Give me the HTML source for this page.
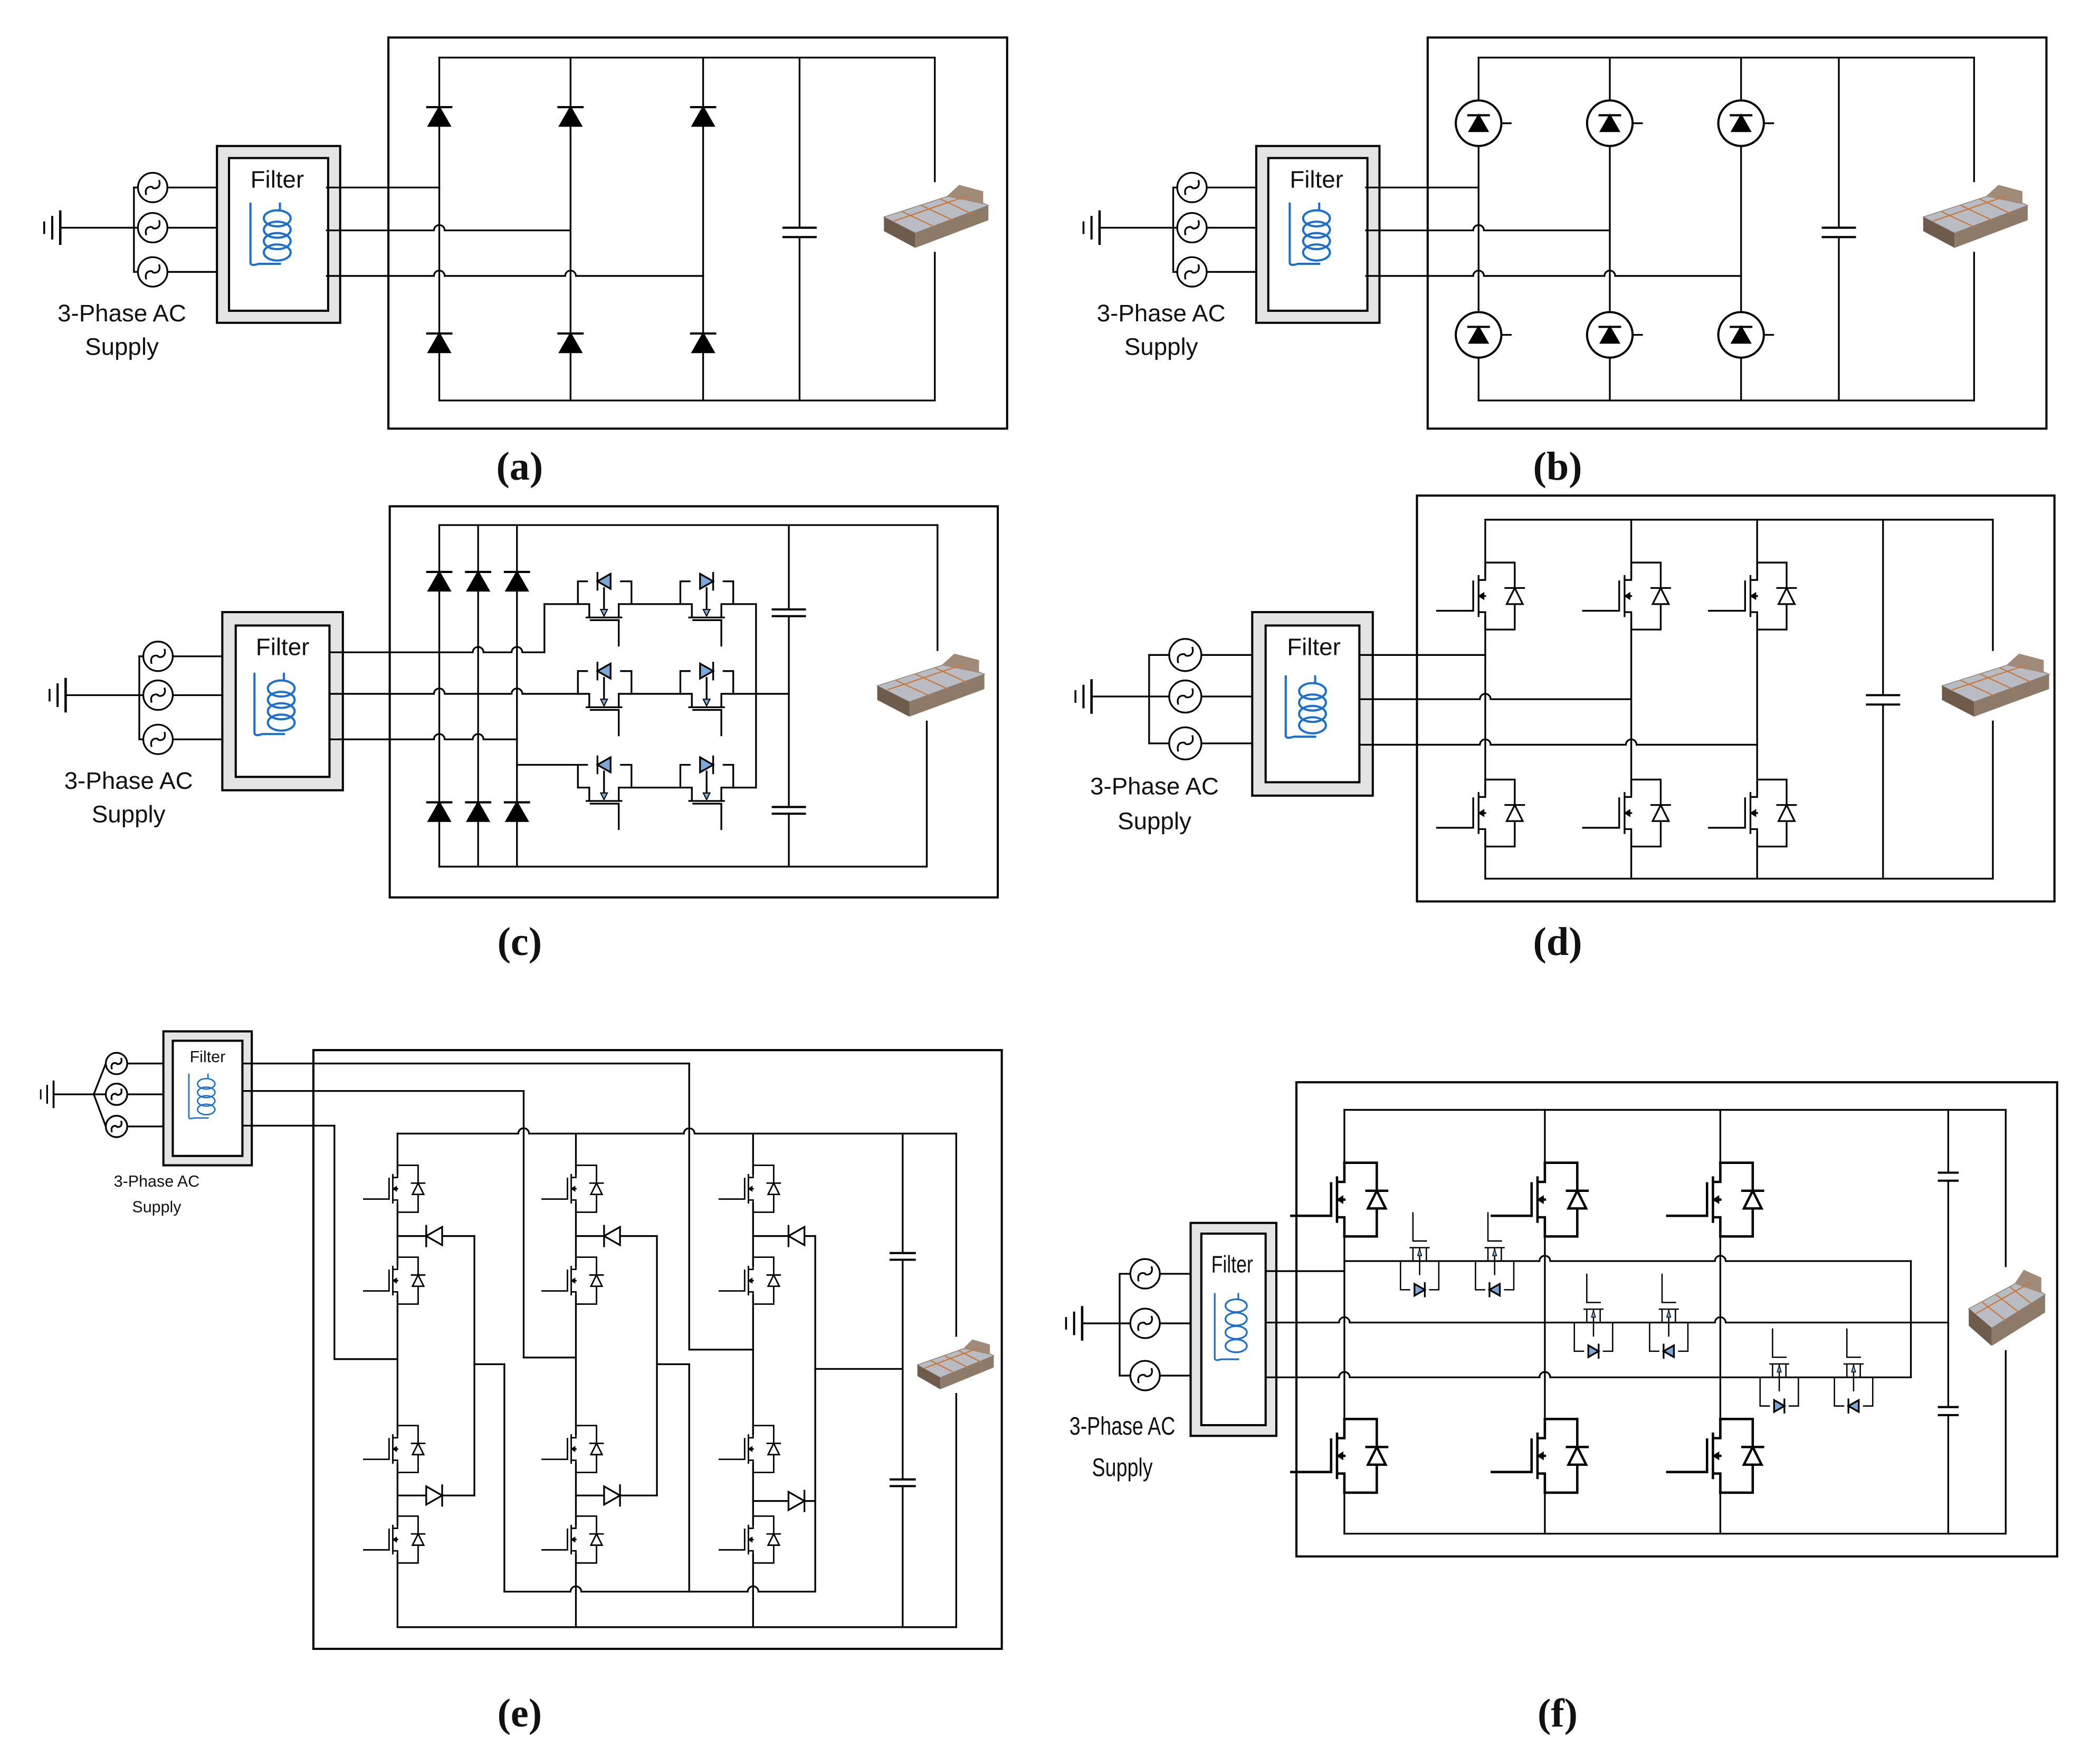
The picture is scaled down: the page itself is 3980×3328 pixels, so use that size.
<!DOCTYPE html>
<html><head><meta charset="utf-8">
<style>
html,body{margin:0;padding:0;background:#fff;}
svg{display:block;}
text{font-family:"Liberation Sans",sans-serif;fill:#111;}
.lbl{font-family:"Liberation Serif",serif;font-size:30px;font-weight:bold;}
</style></head>
<body>
<svg id="s" xmlns="http://www.w3.org/2000/svg" width="3980" height="3328" viewBox="0 0 1568 1311" preserveAspectRatio="none">
<rect x="0" y="0" width="1570" height="1320" fill="#fff"/>
<g id="g" fill="none" stroke="#000" stroke-width="1.3" stroke-linecap="square"></g>
<g id="t">
<text x="207" y="140" font-size="18" text-anchor="middle">Filter</text>
<text x="91" y="240" font-size="18" text-anchor="middle">3-Phase AC</text>
<text x="91" y="265" font-size="18" text-anchor="middle">Supply</text>
<text x="983" y="140" font-size="18" text-anchor="middle">Filter</text>
<text x="867" y="240" font-size="18" text-anchor="middle">3-Phase AC</text>
<text x="867" y="265" font-size="18" text-anchor="middle">Supply</text>
<text x="211" y="489" font-size="18" text-anchor="middle">Filter</text>
<text x="96" y="589" font-size="18" text-anchor="middle">3-Phase AC</text>
<text x="96" y="614" font-size="18" text-anchor="middle">Supply</text>
<text x="981" y="489" font-size="18" text-anchor="middle">Filter</text>
<text x="862" y="593" font-size="18" text-anchor="middle">3-Phase AC</text>
<text x="862" y="619" font-size="18" text-anchor="middle">Supply</text>
<text x="155" y="793" font-size="12" text-anchor="middle">Filter</text>
<text x="117" y="886" font-size="12" text-anchor="middle">3-Phase AC</text>
<text x="117" y="905" font-size="12" text-anchor="middle">Supply</text>
<text x="0" y="0" font-size="18" text-anchor="middle" transform="translate(920,950) scale(0.78,1)">Filter</text>
<text x="0" y="0" font-size="19" text-anchor="middle" transform="translate(838,1071) scale(0.78,1)">3-Phase AC</text>
<text x="0" y="0" font-size="19" text-anchor="middle" transform="translate(838,1102) scale(0.78,1)">Supply</text>
<text class="lbl" x="388" y="358" text-anchor="middle">(a)</text>
<text class="lbl" x="1163" y="358" text-anchor="middle">(b)</text>
<text class="lbl" x="388" y="713" text-anchor="middle">(c)</text>
<text class="lbl" x="1163" y="713" text-anchor="middle">(d)</text>
<text class="lbl" x="388" y="1289" text-anchor="middle">(e)</text>
<text class="lbl" x="1163" y="1289" text-anchor="middle">(f)</text>
</g>
</svg>
<script>
var G=document.getElementById('g');var NS="http://www.w3.org/2000/svg";
function el(n,a){var e=document.createElementNS(NS,n);for(var k in a)e.setAttribute(k,a[k]);G.appendChild(e);return e;}
function P(d,a){a=a||{};a.d=d;return el('path',a);}
function L(x1,y1,x2,y2,a){return P('M'+x1+' '+y1+'L'+x2+' '+y2,a);}
function R(x,y,w,h,a){a=a||{};a.x=x;a.y=y;a.width=w;a.height=h;return el('rect',a);}
function H(y,x1,x2,hops,r){r=r||4;var d='M'+x1+' '+y;(hops||[]).slice().sort(function(a,b){return a-b}).forEach(function(h){d+='H'+(h-r)+'A'+r+' '+r+' 0 0 1 '+(h+r)+' '+y;});d+='H'+x2;return P(d);}
function src(x,y,r){el('circle',{cx:x,cy:y,r:r,fill:'#fff'});var k=r*0.45;P('M'+(x-k)+' '+(y+k)+'C'+(x-k*1.3)+' '+(y-k*0.3)+' '+(x)+' '+(y-k*0.2)+' '+x+' '+y+'C'+x+' '+(y+k*0.2)+' '+(x+k*1.3)+' '+(y+k*0.3)+' '+(x+k)+' '+(y-k));}
function gnd(x,y,s){L(x,y-12*s,x,y+12*s,{'stroke-width':1.8*s});L(x-6*s,y-8*s,x-6*s,y+8*s,{'stroke-width':1.6*s});L(x-12*s,y-4*s,x-12*s,y+4*s,{'stroke-width':1.4*s});}
function filt(x,y,w,h,ins){R(x,y,w,h,{fill:'#e4e4e4','stroke-width':1.6});R(x+ins,y+ins,w-2*ins,h-2*ins,{fill:'#fff','stroke-width':1.6});}
function coil(x,y,h,s){var c='#1d6fc9';var a={stroke:c,'stroke-width':1.6*s};P('M'+x+' '+y+'V'+(y+h)+'Q'+x+' '+(y+h+3*s)+' '+(x+6*s)+' '+(y+h+1*s)+'H'+(x+22*s),a);var n=4;for(var i=0;i<n;i++){el('ellipse',{cx:x+20*s,cy:y+8*s+i*(h-10*s)/n+3*s,rx:10*s,ry:6*s,stroke:c,'stroke-width':1.6*s});}L(x+22*s,y,x+22*s,y+4*s,a);}
function dUp(x,y,s,fill){s=s||1;P('M'+(x-8*s)+' '+(y+7*s)+'H'+(x+8*s)+'L'+x+' '+(y-7*s)+'Z',{fill:fill||'#000'});L(x-9*s,y-7*s,x+9*s,y-7*s,{'stroke-width':1.6});}
function dH(x,y,dir,s,fill,bar){s=s||1;var t=x+dir*7*s,b=x-dir*7*s;P('M'+b+' '+(y-8*s)+'V'+(y+8*s)+'L'+t+' '+y+'Z',{fill:fill||'#fff'});L(t,y-9*s,t,y+9*s);}
function cap(x,y,w,g){R(x-w/2-1,y-g/2,w+2,g,{fill:'#fff',stroke:'none'});L(x-w/2,y-g/2,x+w/2,y-g/2,{'stroke-width':1.6});L(x-w/2,y+g/2,x+w/2,y+g/2,{'stroke-width':1.6});}
function bat(x,y,w,h){R(x-2,y-2,w+4,h+4,{fill:'#fff',stroke:'none'});
P('M'+x+' '+(y+h*0.5)+'L'+(x+w*0.72)+' '+(y+h*0.12)+'L'+(x+w)+' '+(y+h*0.32)+'L'+(x+w*0.3)+' '+(y+h*0.75)+'Z',{fill:'#b9bcc2',stroke:'#8a8580','stroke-width':0.6});
P('M'+x+' '+(y+h*0.5)+'L'+(x+w*0.3)+' '+(y+h*0.75)+'L'+(x+w*0.3)+' '+(y+h*0.98)+'L'+x+' '+(y+h*0.72)+'Z',{fill:'#6e5b4c',stroke:'none'});
P('M'+(x+w*0.3)+' '+(y+h*0.75)+'L'+(x+w)+' '+(y+h*0.32)+'L'+(x+w)+' '+(y+h*0.55)+'L'+(x+w*0.3)+' '+(y+h*0.98)+'Z',{fill:'#8e7a68',stroke:'none'});
P('M'+(x+w*0.6)+' '+(y+h*0.18)+'L'+(x+w*0.72)+' '+(y)+'L'+(x+w*0.95)+' '+(y+h*0.1)+'L'+(x+w*0.95)+' '+(y+h*0.3)+'Z',{fill:'#a08a78',stroke:'none'});
for(var i=1;i<4;i++){L(x+w*0.18*i,y+h*(0.5-0.1*i)+h*0.02,x+w*(0.18*i+0.3),y+h*(0.75-0.1*i),{stroke:'#c8783c','stroke-width':0.9});}
L(x+w*0.1,y+h*0.56,x+w*0.8,y+h*0.17,{stroke:'#c8783c','stroke-width':0.9});}
function sw(x,y,s,sw2){s=s||1;var a=25*s,r=22*s,o={'stroke-width':sw2||1.3};
L(x,y-12*s,x,y+12*s,{stroke:'#fff','stroke-width':4});
P('M'+x+' '+(y-a)+'H'+(x+r)+'V'+(y+a)+'H'+x,o);
P('M'+x+' '+(y-a)+'V'+(y-12*s)+'H'+(x-5*s)+'M'+x+' '+(y+a)+'V'+(y+12*s)+'H'+(x-5*s)+'M'+(x-5*s)+' '+(y-15*s)+'V'+(y+15*s)+'M'+(x-9*s)+' '+(y-11*s)+'V'+(y+11*s)+'M'+(x-36*s)+' '+(y+11*s)+'H'+(x-9*s)+'M'+x+' '+y+'H'+(x-3*s),o);
P('M'+(x-5*s)+' '+y+'l'+(4*s)+' '+(-2.5*s)+'v'+(5*s)+'z',{fill:'#000','stroke-width':0.6});
P('M'+(x+r-6*s)+' '+(y+6*s)+'H'+(x+r+6*s)+'L'+(x+r)+' '+(y-6*s)+'Z',{fill:'#fff','stroke-width':sw2||1.3});L(x+r-7*s,y-6*s,x+r+7*s,y-6*s,o);}
function bsw(x,y){el('circle',{cx:x,cy:y,r:17,fill:'#fff','stroke-width':1.6});dUp(x,y,0.85);L(x+17,y,x+24,y);}
function cbd(cx,lL,lR,dy,ry,dir){var b='#7aa8d8';P('M'+lL+' '+ry+'V'+dy+'H'+lR+'V'+ry);
R(cx-12,dy-3,24,6,{fill:'#fff',stroke:'none'});dH(cx,dy,dir,0.7,b);
P('M'+lL+' '+ry+'H'+(cx-11)+'V'+(ry+10)+'M'+lR+' '+ry+'H'+(cx+11)+'V'+(ry+10)+'M'+(cx-13)+' '+(ry+10)+'H'+(cx+13)+'M'+(cx-10)+' '+(ry+12)+'H'+(cx+11)+'V'+(ry+31)+'M'+cx+' '+(dy+5)+'V'+(ry+4));
P('M'+(cx-2.5)+' '+(ry+4)+'H'+(cx+2.5)+'L'+cx+' '+(ry+9)+'Z',{fill:b,'stroke-width':0.8});}
function fbd(cx,ry,dir){var b='#7aa8d8',l=cx-14.3,r=cx+14.3,dy=ry+21.4;
P('M'+l+' '+ry+'V'+dy+'H'+r+'V'+ry,{'stroke-width':1});
R(cx-7,dy-2,14,4,{fill:'#fff',stroke:'none'});dH(cx,dy,dir,0.55,b);
P('M'+l+' '+ry+'H'+(cx-5)+'V'+(ry-10)+'M'+r+' '+ry+'H'+(cx+5)+'V'+(ry-10)+'M'+(cx-7)+' '+(ry-10)+'H'+(cx+7)+'M'+(cx-5)+' '+(ry-36)+'V'+(ry-15)+'H'+(cx+5)+'M'+cx+' '+(ry+10)+'V'+(ry-10),{'stroke-width':1});
P('M'+(cx-1.5)+' '+(ry-4)+'H'+(cx+1.5)+'L'+cx+' '+(ry-9)+'Z',{fill:b,'stroke-width':0.6});}

function left(ox,srcX,ys,r,busX,gx,gy,fx,fy,fw,fh,ins,cx,cy,ch,cs){
 L(gx,gy,busX,gy);gnd(gx,gy,cs);L(busX,ys[0],busX,ys[2]);
 ys.forEach(function(y){L(busX,y,srcX-r,y);L(srcX+r,y,fx,y);});
 ys.forEach(function(y){src(srcX,y,r);});
 filt(fx,fy,fw,fh,ins);coil(cx,cy,ch,cs);}

/* (a) */
R(290,28,462,292,{'stroke-width':1.6});
left(0,114,[140,170,203],11,100,45,170,162,109,92,132,9,187,152,44,1);
L(328,43,698,43);L(328,299,698,299);
[328,426,525].forEach(function(x){L(x,43,x,299);dUp(x,87);dUp(x,256);});
H(140,244,328,[]);H(172,244,426,[328]);H(206,244,525,[328,426]);
L(597,43,597,299);cap(597,173.5,24,7);
L(698,43,698,150);L(698,186,698,299);bat(660,138,78,48);

/* (b) */
R(1066,28,462,292,{'stroke-width':1.6});
left(0,890,[140,170,203],11,876,821,170,938,109,92,132,9,963,152,44,1);
L(1104,43,1474,43);L(1104,299,1474,299);
[1104,1202,1300].forEach(function(x){L(x,43,x,299);bsw(x,92);bsw(x,250);});
H(140,1020,1104,[]);H(172,1020,1202,[1104]);H(206,1020,1300,[1104,1202]);
L(1373,43,1373,299);cap(1373,173.5,24,7);
L(1474,43,1474,150);L(1474,186,1474,299);bat(1436,138,78,48);

/* (c) */
R(291,378,454,292,{'stroke-width':1.6});
left(0,118,[490,519,552],11,104,49,519,166,457,90,133,10,190,503,44,1);
L(328,392,700,392);L(328,647,692,647);
[328,357,386].forEach(function(x){L(x,392,x,647);dUp(x,434);dUp(x,606);});
H(487,246,406.5,[357,386]);L(406.5,487,406.5,451);
H(518,246,431.5,[328,386]);H(552,246,386,[328,357]);
L(386,571,431.5,571);
L(406.5,451,431.5,451);L(471.5,451,508,451);L(547.5,451,564.5,451);
L(471.5,518,508,518);L(547.5,518,589,518);
L(471.5,588,508,588);L(547.5,588,564.5,588);
L(564.5,451,564.5,588);
[[451,434],[518,501],[588,571]].forEach(function(r){cbd(451,431.5,471.5,r[1],r[0],-1);cbd(527.6,508,547.5,r[1],r[0],1);});
L(589,392,589,647);cap(589,457.5,24,5);cap(589,605,24,5);
L(700,392,700,492);L(692,536,692,647);bat(655,488,80,48);

/* (d) */
R(1058,370,476,303,{'stroke-width':1.6});
left(0,885,[489,520,555],12,858,815,520,935,457,90,137,10,960,505,44,1);
L(1109,388,1488,388);L(1109,656,1488,656);
[1109,1218,1312].forEach(function(x){L(x,388,x,656);});
H(489,1015,1109,[]);H(522,1015,1218,[1109]);H(556,1015,1312,[1109,1218]);
[1109,1218,1312].forEach(function(x){sw(x,445,1);sw(x,607,1);});
L(1406,388,1406,656);cap(1406,522.5,24,7);
L(1488,388,1488,490);L(1488,536,1488,656);bat(1450,488,80,48);

/* (e) */
R(234,784,514,447,{'stroke-width':1.6});
L(40,817,70,817);gnd(40,817,0.8);L(70,817,79,794);L(70,817,79,841);L(70,817,79,817);
[794,817,841].forEach(function(y){L(95,y,122,y);src(87,y,8);});
filt(122,770,66,100,7);coil(141,802,32,0.65);
L(182,794,514.6,794);L(514.6,794,514.6,1007.6);L(514.6,1007.6,562.3,1007.6);
L(182,814.5,391,814.5);L(391,814.5,391,1013.5);L(391,1013.5,430,1013.5);
L(182,840.4,249.7,840.4);L(249.7,840.4,249.7,1014.7);L(249.7,1014.7,296.8,1014.7);
H(846.3,296.8,714,[391,514.6]);
var LE=[296.8,430,562.3];
LE.forEach(function(x){L(x,846.3,x,1214.8);});
L(296.8,1214.8,714,1214.8);
function clamp(x,rx,uy,ly,dx){L(x,uy,rx,uy);L(x,ly,rx,ly);dH(dx,uy,-1,0.85);dH(dx,ly,1,0.85);}
clamp(296.8,354.2,922.8,1116.5,324.2);L(354.2,922.8,354.2,1116.5);
clamp(430,490.5,922.8,1116.5,457);L(490.5,922.8,490.5,1116.5);
clamp(562.3,608.7,922.8,1120.6,594.7);L(608.7,922.8,608.7,1188.3);
L(354.2,1018.5,376.6,1018.5);L(376.6,1018.5,376.6,1188.3);H(1188.3,376.6,608.7,[430,562.3]);
L(490.5,1018.5,514.6,1018.5);L(514.6,1018.5,514.6,1188.3);
L(608.7,1022,674,1022);
LE.forEach(function(x){[887.5,956.1,1081.8,1149.4].forEach(function(y){sw(x,y,0.7,1.1);});});
L(674,846.3,674,1214.8);cap(674,938,18,5);cap(674,1107,18,5);
L(714,846.3,714,1000);L(714,1037,714,1214.8);bat(685,1000,57,38);

/* (f) */
R(968,808,568,354,{'stroke-width':1.6});
L(808,988,836,988);gnd(808,988,1);L(836,951,836,1027);
[951,988,1027].forEach(function(y){L(836,y,844,y);L(866,y,889,y);src(855,y,11);});
filt(889,913,64,159,8);coil(907,966,48,0.8);
L(1003.8,828.6,1497.6,828.6);L(1003.8,1145,1497.6,1145);
[1003.8,1153.5,1284.5].forEach(function(x){L(x,828.6,x,1145);});
L(945,949,1003.8,949);
H(941.5,1003.8,1426.8,[1153.5,1284.5]);
H(987.4,945,1454.7,[1003.8,1284.5]);
H(1028.3,945,1426.8,[1003.8,1153.5]);
L(1426.8,941.5,1426.8,1028.3);
fbd(1060,941.5,1);fbd(1116,941.5,-1);fbd(1189.8,987.4,1);fbd(1246,987.4,-1);fbd(1328.5,1028.3,1);fbd(1384,1028.3,-1);
[1003.8,1153.5,1284.5].forEach(function(x){sw(x,895.6,1.1,1.8);sw(x,1086.9,1.1,1.8);});
L(1454.7,828.6,1454.7,1145);cap(1454.7,878.5,14,6);cap(1454.7,1053.5,14,6);
L(1497.6,828.6,1497.6,947);L(1497.6,1007,1497.6,1145);bat(1470,948,57,58);
</script>
</body></html>
